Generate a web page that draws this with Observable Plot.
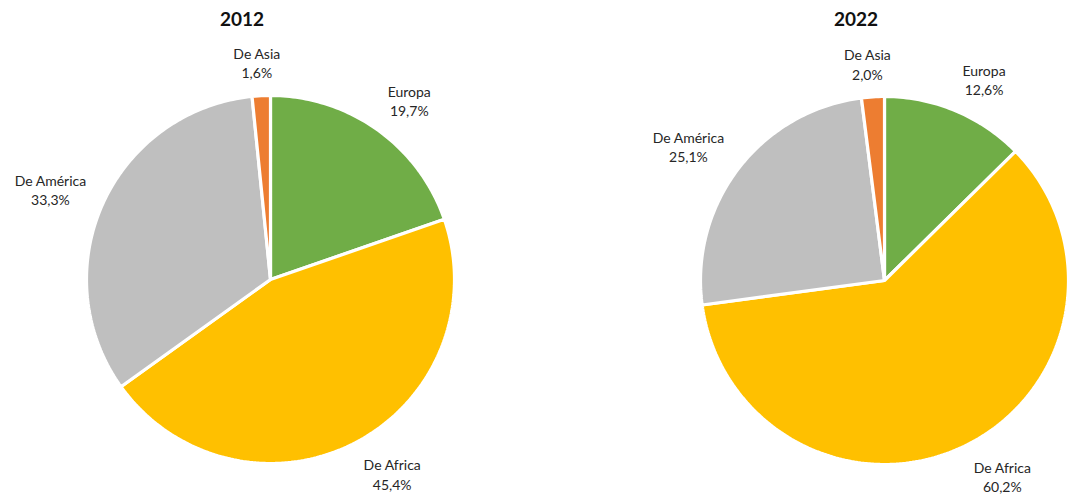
<!DOCTYPE html>
<html>
<head>
<meta charset="utf-8">
<script src="https://cdn.jsdelivr.net/npm/d3@7"></script>
<script src="https://cdn.jsdelivr.net/npm/@observablehq/plot@0.6"></script>
<style>
  body { margin: 0; background: #fff; }
  #wrap { position: relative; width: 1067px; height: 495px; overflow: hidden; font-family: Lato, "Open Sans", sans-serif; }
  .chart { position: absolute; top: 0; width: 540px; }
  .title { height: 35px; line-height: 38px; box-sizing: border-box; padding-right: 56px; text-align: center; font-weight: 700; font-size: 19px; color: #111; }
  svg { display: block; overflow: visible; }
</style>
</head>
<body>
<div id="wrap"></div>
<script>
// ---- data ----
const years = ["2012", "2022"];
const regions = ["Europa", "De Africa", "De América", "De Asia"];
const regionColors = ["#70AD47", "#FFC000", "#BFBFBF", "#ED7D31"];
const share2012 = [19.7, 45.4, 33.3, 1.6];
const share2022 = [12.6, 60.2, 25.1, 2.0];
const pctLabels2012 = ["19,7%", "45,4%", "33,3%", "1,6%"];
const pctLabels2022 = ["12,6%", "60,2%", "25,1%", "2,0%"];

// ---- layout ----
const W = 540, H = 460, R = 184;
const chartLefts = [0, 614];
const centerYs = [244, 245];

const canvas = document.createElement("canvas");
const ctx = canvas.getContext("2d");
ctx.font = "14px Lato";
const measure = s => ctx.measureText(s).width;

function buildPie(shares, pctLabels, cy) {
  const total = d3.sum(shares);
  let acc = 0;
  const slices = regions.map((region, i) => {
    const a0 = acc / total * 2 * Math.PI;
    acc += shares[i];
    const a1 = acc / total * 2 * Math.PI;
    return {region, a0, a1, label: region + "\n" + pctLabels[i]};
  });
  // sample each slice outline (center + arc) for drawing through the x/y scales
  const outline = slices.flatMap(s => {
    const n = Math.max(2, Math.ceil((s.a1 - s.a0) / (Math.PI / 180)));
    const pts = [{region: s.region, x: 0, y: 0}];
    for (let k = 0; k <= n; k++) {
      const a = s.a0 + (s.a1 - s.a0) * k / n;
      pts.push({region: s.region, x: Math.sin(a), y: Math.cos(a)});
    }
    return pts;
  });
  // outside-end label positions
  const pad = 18, hh = 15;
  const clamp = v => Math.max(-1, Math.min(1, v));
  const labels = slices.map(s => {
    const a = (s.a0 + s.a1) / 2;
    const sa = Math.sin(a), ca = Math.cos(a);
    const hw = d3.max(s.label.split("\n"), measure) / 2;
    const x = (sa * (R + pad) + hw * clamp(sa * 3)) / R;
    const y = (ca * (R + pad) + hh * clamp(ca * 1.2)) / R;
    return {x, y, text: s.label};
  });
  return Plot.plot({
    width: W,
    height: H,
    margin: 0,
    style: {fontFamily: "Lato, 'Open Sans', sans-serif", background: "transparent", overflow: "visible"},
    x: {domain: [-(W / 2) / R, (W / 2) / R], axis: null},
    y: {domain: [-(H - cy) / R, cy / R], axis: null},
    color: {domain: regions, range: regionColors},
    marks: [
      Plot.line(outline, {
        x: "x", y: "y", z: "region", fill: "region",
        stroke: "white", strokeWidth: 3.2, strokeLinejoin: "miter",
        curve: "linear-closed"
      }),
      Plot.text(labels, {
        x: "x", y: "y", text: "text",
        lineAnchor: "middle", lineHeight: 1.36,
        fontSize: 14, fill: "#262626"
      })
    ]
  });
}

const wrap = document.getElementById("wrap");
const sharesByYear = [share2012, share2022];
const pctByYear = [pctLabels2012, pctLabels2022];
years.forEach((yr, i) => {
  const div = document.createElement("div");
  div.className = "chart";
  div.style.left = chartLefts[i] + "px";
  const t = document.createElement("div");
  t.className = "title";
  t.textContent = yr;
  div.appendChild(t);
  div.appendChild(buildPie(sharesByYear[i], pctByYear[i], centerYs[i]));
  wrap.appendChild(div);
});
</script>
</body>
</html>
